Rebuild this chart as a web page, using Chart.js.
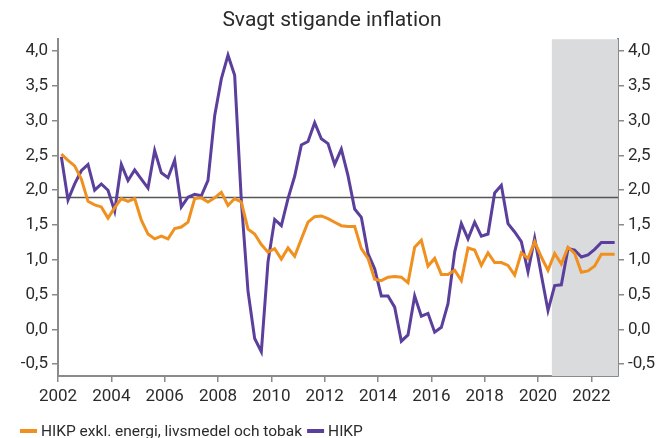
<!DOCTYPE html>
<html>
<head>
<meta charset="utf-8">
<script src="https://cdn.jsdelivr.net/npm/chart.js@4/dist/chart.umd.min.js"></script>
<style>
html,body{margin:0;padding:0;background:#fff}
</style>
</head>
<body>
<canvas id="chart" width="664" height="438"></canvas>
<script>
// kvartalsdata, första kvartalet 2002 t.o.m. fjärde kvartalet 2022
const START_YEAR=2002;
const SERIES_NAMES=['HIKP exkl. energi, livsmedel och tobak','HIKP'];
const core=[
  2.52,2.43,2.35,2.16, 1.84,1.79,1.76,1.60, 1.75,1.88,1.84,1.88, 1.57,1.37,1.30,1.34,
  1.30,1.45,1.47,1.54, 1.88,1.89,1.83,1.89, 1.97,1.78,1.88,1.83, 1.44,1.37,1.22,1.11,
  1.16,1.01,1.17,1.05, 1.30,1.54,1.62,1.63, 1.59,1.54,1.49,1.48, 1.48,1.16,1.02,0.72,
  0.70,0.75,0.76,0.75, 0.67,1.18,1.28,0.91, 1.02,0.79,0.79,0.85, 0.70,1.17,1.14,0.92,
  1.10,0.96,0.96,0.92, 0.78,1.10,1.02,1.26, 1.04,0.85,1.09,0.94, 1.18,1.09,0.82,0.84,
  0.91,1.08,1.08,1.08
];
const hicp=[
  2.48,1.86,2.09,2.28, 2.37,2.00,2.09,2.00, 1.70,2.37,2.14,2.29, 2.16,2.03,2.57,2.25,
  2.18,2.43,1.76,1.90, 1.94,1.92,2.14,3.07, 3.60,3.94,3.65,1.85, 0.55,-0.13,-0.32,0.97,
  1.58,1.49,1.88,2.20, 2.65,2.70,2.97,2.74, 2.67,2.37,2.59,2.21, 1.73,1.61,1.09,0.87,
  0.48,0.48,0.32,-0.17, -0.08,0.48,0.19,0.23, -0.04,0.03,0.37,1.11, 1.52,1.30,1.54,1.34,
  1.37,1.96,2.07,1.52, 1.40,1.26,0.83,1.31, 0.78,0.27,0.63,0.64, 1.16,1.14,1.04,1.07,
  1.15,1.25,1.25,1.25
];
const yTicks=[-0.5,0,0.5,1,1.5,2,2.5,3,3.5,4];
const xTicks=[2002,2004,2006,2008,2010,2012,2014,2016,2018,2020,2022];
const REF_LEVEL=1.9;
const FORECAST_FROM=2020.52;

const COL={orange:'#f0901f',purple:'#5b3f9c',axis:'#8a8a8a',text:'#2b2b2b',shade:'#dadbdd',ref:'#555555'};
const FONT='Roboto, "Open Sans", sans-serif';

const toPts=arr=>arr.map((v,i)=>({x:START_YEAR+(i+0.5)/4,y:v}));
const fmt=v=>v.toFixed(1).replace('.',',');

const shadePlugin={
  id:'shade',
  beforeDatasetsDraw(chart){
    const {ctx,chartArea:a,scales:{x,y}}=chart;
    ctx.save();
    const x0=x.getPixelForValue(FORECAST_FROM);
    ctx.fillStyle=COL.shade;
    ctx.fillRect(x0,a.top,a.right-x0,a.bottom-a.top);
    const yr=Math.round(y.getPixelForValue(REF_LEVEL))+0.5;
    ctx.strokeStyle=COL.ref;ctx.lineWidth=1.3;
    ctx.beginPath();ctx.moveTo(a.left,yr);ctx.lineTo(a.right,yr);ctx.stroke();
    ctx.restore();
  }
};

const legendPlugin={
  id:'botLegend',
  afterDraw(chart){
    const {ctx}=chart;
    ctx.save();
    ctx.font='15.5px '+FONT;
    ctx.textBaseline='middle';
    let cx=20;const cy=431;
    chart.data.datasets.forEach(ds=>{
      ctx.fillStyle=ds.borderColor;
      ctx.fillRect(cx,cy-2,17,4);
      cx+=21;
      ctx.fillStyle=COL.text;
      ctx.fillText(ds.label,cx,cy+1);
      cx+=ctx.measureText(ds.label).width+5;
    });
    ctx.restore();
  }
};

const yScale=(pos,w)=>({
  type:'linear',position:pos,min:-0.67,max:4.17,
  afterBuildTicks:s=>{s.ticks=yTicks.map(v=>({value:v}))},
  afterFit:s=>{s.width=w},
  grid:{drawOnChartArea:false,drawTicks:true,tickLength:6,color:COL.axis,lineWidth:1.5},
  border:{display:true,color:COL.axis,width:2},
  ticks:{color:COL.text,font:{family:FONT,size:17},padding:4,callback:v=>fmt(v)}
});

new Chart(document.getElementById('chart'),{
  type:'line',
  data:{datasets:[
    {label:SERIES_NAMES[0],data:toPts(core),borderColor:COL.orange,borderWidth:3,pointRadius:0,tension:0},
    {label:SERIES_NAMES[1],data:toPts(hicp),borderColor:COL.purple,borderWidth:3,pointRadius:0,tension:0}
  ]},
  options:{
    responsive:false,animation:false,devicePixelRatio:1,
    layout:{padding:{left:0,right:0,top:0,bottom:28}},
    plugins:{
      legend:{display:false},
      tooltip:{enabled:false},
      title:{display:true,text:'Svagt stigande inflation',color:COL.text,font:{family:FONT,size:21,weight:'normal'},padding:{top:8,bottom:6}}
    },
    scales:{
      x:{
        type:'linear',min:2002,max:2023,
        afterBuildTicks:s=>{s.ticks=xTicks.map(v=>({value:v}))},
        afterFit:s=>{s.height=34},
        grid:{drawOnChartArea:false,drawTicks:true,tickLength:6,color:COL.axis,lineWidth:1.5},
        border:{display:true,color:COL.axis,width:2},
        ticks:{color:COL.text,font:{family:FONT,size:17},padding:5,maxRotation:0,callback:v=>String(v)}
      },
      y:yScale('left',58),
      y2:yScale('right',46)
    }
  },
  plugins:[shadePlugin,legendPlugin]
});
</script>
</body>
</html>
